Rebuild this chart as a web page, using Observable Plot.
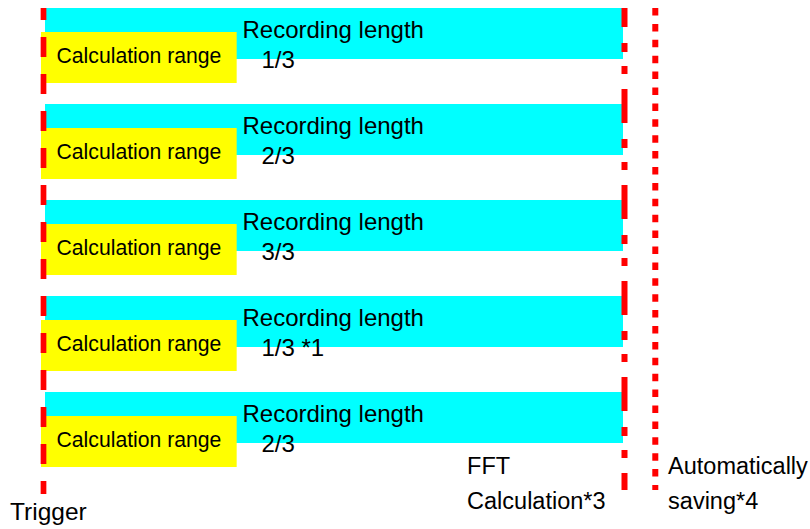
<!DOCTYPE html>
<html>
<head>
<meta charset="utf-8">
<script src="https://cdn.jsdelivr.net/npm/d3@7"></script>
<script src="https://cdn.jsdelivr.net/npm/@observablehq/plot@0.6"></script>
<style>
  html, body { margin: 0; padding: 0; background: #fff; }
  #chart svg { display: block; background: #fff; }
</style>
</head>
<body>
<div id="chart"></div>
<script>
// ---- data ----
const rows = [0, 1, 2, 3, 4];
const fractionLabels = ["1/3", "2/3", "3/3", "1/3 *1", "2/3"];
const recordingLabel = "Recording length";
const calcLabel = "Calculation range";
const recordingStart = 0;      // time, % of recording length
const recordingEnd = 100;
const calcEnd = 100 / 3;
const markerNames = ["Trigger", "FFT Calculation", "Automatically saving"];
const markerTimes = [0, 100, 105.3];
const markerLabels = ["Trigger", "FFT\nCalculation*3", "Automatically\nsaving*4"];
const markerLabelTimes = [-5.77, 72.9, 107.5];

// ---- layout ----
const W = 810, H = 529;
const x0px = 43, x100px = 624;          // pixel positions of t=0 and t=100
const pxPerT = (x100px - x0px) / 100;
const rowTop0 = 8, rowStep = 96;          // pixel top of first row, row pitch
const rowPx = rowStep;
const font = "'Liberation Sans', Arial, sans-serif";

const tbl = rows.map((r, i) => ({row: r, frac: fractionLabels[i]}));
const markers = markerNames.map((n, i) => ({name: n, t: markerTimes[i], label: markerLabels[i], lt: markerLabelTimes[i]}));
const lastRow = rows[rows.length - 1];

const lineStyles = [
  {width: 5.7, dash: "20,17", offset: 8, end: 486 / rowPx},
  {width: 6, dash: "34,16,9,14,8,15", offset: 15, end: 482 / rowPx},
  {width: 6, dash: "7.5,8.4", offset: 0, end: 482 / rowPx}
];

const marks = [
  Plot.rect(tbl, {x1: () => recordingStart, x2: () => recordingEnd, y1: d => d.row, y2: d => d.row + 51 / rowPx,
    fill: "#00ffff", insetLeft: 2, insetRight: 1}),
  Plot.rect(tbl, {x1: () => recordingStart, x2: () => calcEnd, y1: d => d.row + 24 / rowPx, y2: d => d.row + 75 / rowPx,
    fill: "#ffff00", insetLeft: -2}),
  Plot.text(tbl, {x: () => recordingStart, y: "row", text: () => recordingLabel, dx: 199, dy: 29,
    textAnchor: "start", lineAnchor: "bottom", fontSize: 24, fill: "#000", fontFamily: font}),
  Plot.text(tbl, {x: () => recordingStart, y: "row", text: "frac", dx: 218, dy: 59,
    textAnchor: "start", lineAnchor: "bottom", fontSize: 24, fill: "#000", fontFamily: font}),
  Plot.text(tbl, {x: () => recordingStart, y: "row", text: () => calcLabel, dx: 13, dy: 54.5,
    textAnchor: "start", lineAnchor: "bottom", fontSize: 21.2, fill: "#000", fontFamily: font})
];

markers.forEach((m, i) => {
  const s = lineStyles[i];
  marks.push(Plot.ruleX([m], {x: "t", y1: () => rows[0], y2: () => s.end, stroke: "#ff0000",
    strokeWidth: s.width, strokeDasharray: s.dash, strokeDashoffset: s.offset}));
});

marks.push(Plot.text(markers.slice(0, 1), {x: "lt", y: () => lastRow, text: "label", dy: 127,
  textAnchor: "start", lineAnchor: "bottom", fontSize: 24.5, fill: "#000", fontFamily: font}));
marks.push(Plot.text(markers.slice(1), {x: "lt", y: () => lastRow, text: "label", dy: 116, lineHeight: 35 / 23.5,
  textAnchor: "start", lineAnchor: "bottom", fontSize: 23.5, fill: "#000", fontFamily: font}));

const chart = Plot.plot({
  width: W, height: H, margin: 0,
  style: {background: "#fff", fontFamily: font, overflow: "visible"},
  x: {type: "linear", domain: [-x0px / pxPerT, (W - x0px) / pxPerT], range: [0, W], axis: null},
  y: {type: "linear", domain: [-rowTop0 / rowPx, (H - rowTop0) / rowPx], range: [0, H], axis: null},
  marks
});
document.getElementById("chart").appendChild(chart);
</script>
</body>
</html>
